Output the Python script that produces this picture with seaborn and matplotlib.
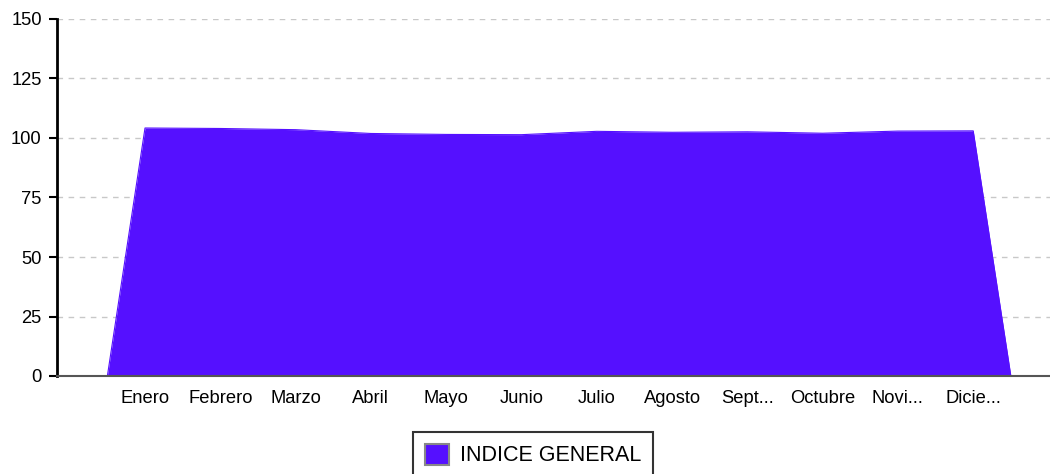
import matplotlib
matplotlib.use("Agg")
import matplotlib.pyplot as plt
import seaborn as sns
import pandas as pd
from matplotlib.patches import Patch

months = ["Enero", "Febrero", "Marzo", "Abril", "Mayo", "Junio",
          "Julio", "Agosto", "Sept...", "Octubre", "Novi...", "Dicie..."]
indice_general = [104.2, 104.0, 103.5, 101.9, 101.5, 101.4,
                  102.8, 102.4, 102.6, 102.0, 102.9, 103.0]
y_ticks = [0, 25, 50, 75, 100, 125, 150]
series_name = "INDICE GENERAL"
fill_color = "#5510ff"

sns.set_theme(style="white")
plt.rcParams["font.family"] = ["Liberation Sans", "DejaVu Sans"]

# area closes to zero half a slot outside the first and last month
xs = [-0.5] + list(range(len(months))) + [len(months) - 0.5]
ys = [0] + indice_general + [0]
df = pd.DataFrame({"x": xs, "y": ys})

fig = plt.figure(figsize=(10.5, 4.74), dpi=100)
ax = fig.add_axes([57 / 1050, 1 - 376 / 474, 1 - 57 / 1050, (376 - 19) / 474])

ax.fill_between(df["x"], 0, df["y"], color=fill_color, linewidth=0, zorder=2)
sns.lineplot(data=df, x="x", y="y", ax=ax, color=fill_color, linewidth=0.8,
             zorder=3, estimator=None, sort=False)

ax.set_xlim(-1.169, 12.02)
ax.set_ylim(0, 150)
ax.set_yticks(y_ticks)
ax.set_yticklabels([str(t) for t in y_ticks], fontsize=13.2, color="black")
ax.set_xticks(range(len(months)))
ax.set_xticklabels(months, fontsize=13.2, color="black")
ax.set_xlabel("")
ax.set_ylabel("")

ax.yaxis.grid(True, linestyle=(0, (4, 4)), color="#c8c8c8", linewidth=1, zorder=1)
ax.xaxis.grid(False)
ax.set_axisbelow(True)

for side in ["top", "right"]:
    ax.spines[side].set_visible(False)
ax.spines["left"].set_color("black")
ax.spines["left"].set_linewidth(2)
ax.spines["bottom"].set_color("#555555")
ax.spines["bottom"].set_linewidth(1.5)
ax.spines["bottom"].set_zorder(4)

ax.tick_params(axis="y", which="both", left=True, length=6, width=1.5,
               color="black", pad=5)
ax.tick_params(axis="x", which="both", bottom=False, pad=4)

handle = Patch(facecolor=fill_color, edgecolor="#888888", linewidth=1.5)
leg = fig.legend([handle], [series_name], loc="upper center",
                 bbox_to_anchor=(533 / 1050, 1 - 432 / 474), frameon=True,
                 fontsize=15.5, handlelength=1.1, handleheight=1.1,
                 handletextpad=0.5, borderpad=0.55, borderaxespad=0,
                 fancybox=False, labelcolor="black")
leg.get_frame().set_edgecolor("black")
leg.get_frame().set_linewidth(1.5)

fig.savefig("out.png", dpi=100)
